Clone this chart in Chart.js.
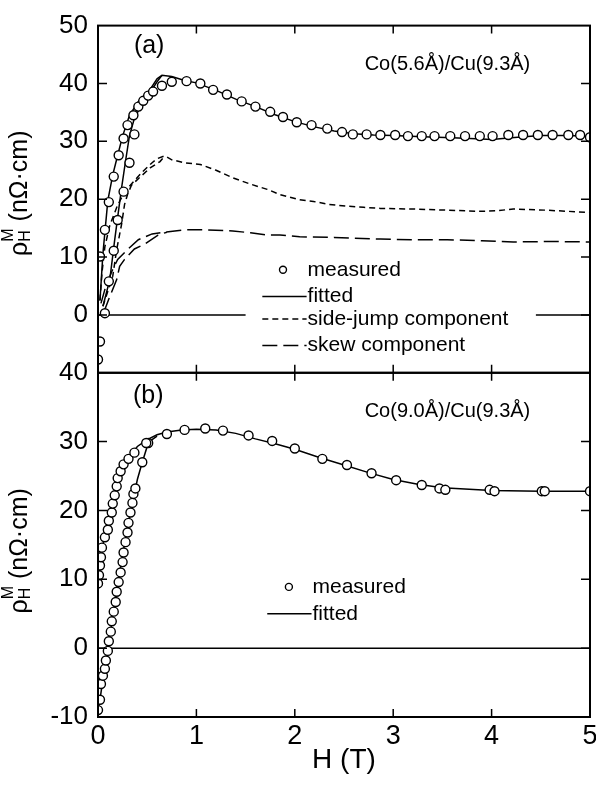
<!DOCTYPE html>
<html>
<head>
<meta charset="utf-8">
<script src="https://cdn.jsdelivr.net/npm/chart.js@4"></script>
<style>
  body { margin: 0; background: #fff; }
  canvas { display: block; background: #fff; }
</style>
</head>
<body>
<canvas id="graph" width="596" height="790"></canvas>
<script>
const FONT = "'Liberation Sans', Arial, sans-serif";

// ---- panel (a) Co(5.6A)/Cu(9.3A) ----
const measA_H   = [0.02, 0.07, 0.11, 0.16, 0.21, 0.26, 0.30, 0.36, 0.41, 0.46, 0.51, 0.56, 0.65, 0.75, 0.90, 1.04, 1.17, 1.31, 1.46, 1.60, 1.75, 1.88, 2.02, 2.17, 2.33, 2.48, 2.59, 2.73, 2.87, 3.02, 3.15, 3.29, 3.42, 3.58, 3.73, 3.88, 4.01, 4.17, 4.32, 4.47, 4.62, 4.78, 4.90, 5.00];
const measA_rho = [10.1, 14.7, 19.5, 23.9, 27.6, 30.5, 32.8, 34.5, 36.0, 37.0, 37.9, 38.6, 39.6, 40.3, 40.4, 40.0, 38.9, 38.1, 36.9, 36.0, 35.1, 34.2, 33.3, 32.8, 32.2, 31.6, 31.2, 31.2, 31.1, 31.1, 30.9, 30.9, 30.9, 30.9, 30.9, 30.9, 30.9, 31.1, 31.1, 31.1, 31.1, 31.1, 31.1, 30.7];
const measA2_H   = [0.00, 0.02, 0.07, 0.11, 0.16, 0.20, 0.26, 0.32, 0.37];
const measA2_rho = [-7.7, -4.6, 0.3, 5.8, 11.1, 16.4, 21.3, 26.3, 31.2];

const fitA1_H   = [0.02, 0.05, 0.10, 0.15, 0.20, 0.25, 0.32, 0.41, 0.52, 0.60, 0.65, 0.75, 0.88, 1.0, 1.2, 1.4, 1.6, 1.8, 2.0, 2.2, 2.4, 2.6, 2.8, 3.0, 3.3, 3.6, 3.9, 4.0, 4.2, 4.5, 4.8, 5.0];
const fitA1_rho = [2.5, 10.6, 19.8, 24.2, 27.6, 30.9, 34.5, 36.9, 38.7, 40.8, 41.4, 41.2, 40.5, 40.1, 38.8, 37.3, 36.0, 34.6, 33.4, 32.5, 31.8, 31.3, 31.1, 31.0, 30.8, 30.6, 30.4, 30.3, 30.6, 31.0, 31.0, 30.8];
const fitA2_H   = [0.05, 0.12, 0.17, 0.20, 0.24, 0.28, 0.32, 0.37, 0.44, 0.52, 0.60, 0.65];
const fitA2_rho = [1.5, 6.1, 13.0, 16.9, 22.0, 26.6, 31.0, 34.0, 36.2, 38.2, 40.3, 41.4];

const sjA1_H   = [0.02, 0.04, 0.07, 0.12, 0.20, 0.28, 0.37, 0.45, 0.55, 0.60, 0.68, 0.75, 0.88, 1.04, 1.20, 1.37, 1.55, 1.72, 1.85, 2.05, 2.19, 2.35, 2.53, 2.70, 2.87, 3.20, 3.55, 3.88, 4.05, 4.22, 4.56, 5.00];
const sjA1_rho = [2.5, 7.2, 11.8, 15.5, 19.0, 21.5, 23.2, 24.7, 26.3, 27.0, 27.5, 26.8, 26.3, 26.0, 25.0, 23.7, 22.6, 21.7, 20.8, 19.9, 19.6, 19.1, 18.8, 18.6, 18.4, 18.3, 18.1, 17.9, 18.0, 18.3, 18.1, 17.7];
const sjA2_H   = [0.05, 0.15, 0.19, 0.24, 0.27, 0.30, 0.34, 0.42, 0.53, 0.63, 0.68];
const sjA2_rho = [1.5, 6.7, 11.3, 15.7, 19.1, 20.8, 22.4, 23.7, 25.4, 26.5, 27.5];

const skA1_H   = [0.03, 0.08, 0.14, 0.20, 0.30, 0.41, 0.55, 0.68, 0.88, 1.10, 1.37, 1.55, 1.72, 1.85, 2.05, 2.40, 2.87, 3.20, 3.55, 3.90, 4.22, 4.60, 5.00];
const skA1_rho = [2.0, 5.0, 7.5, 9.6, 11.3, 13.0, 14.0, 14.3, 14.7, 14.7, 14.5, 14.2, 13.8, 13.8, 13.5, 13.4, 13.1, 13.0, 13.0, 12.8, 12.6, 12.7, 12.6];
const skA2_H   = [0.06, 0.12, 0.19, 0.22, 0.27, 0.37, 0.48, 0.61, 0.70];
const skA2_rho = [0.5, 3.2, 6.1, 8.4, 9.6, 11.4, 12.3, 13.8, 14.3];

// zero line of panel (a) is broken where the legend sits
const zeroA_H   = [0, 1.5, 1.6, 4.45, 5];
const zeroA_rho = [0, 0, null, 0, 0];

// ---- panel (b) Co(9.0A)/Cu(9.3A) ----
const measB_H   = [0, 0.01, 0.02, 0.03, 0.04, 0.07, 0.10, 0.11, 0.14, 0.15, 0.17, 0.19, 0.20, 0.23, 0.26, 0.31, 0.37, 0.49, 0.70, 0.88, 1.09, 1.27, 1.53, 1.77, 2.00, 2.28, 2.53, 2.78, 3.03, 3.29, 3.47, 3.53, 3.98, 4.03, 4.51, 4.54, 5.00];
const measB_rho = [9.4, 10.6, 12.0, 13.2, 14.6, 16.1, 17.2, 18.5, 19.7, 21.0, 22.2, 23.5, 24.7, 25.7, 26.7, 27.5, 28.4, 29.8, 31.1, 31.7, 31.9, 31.6, 30.9, 30.1, 29.0, 27.5, 26.6, 25.4, 24.4, 23.7, 23.2, 23.0, 23.0, 22.8, 22.8, 22.8, 22.8];
const measB2_H   = [0, 0.02, 0.03, 0.05, 0.07, 0.08, 0.10, 0.11, 0.13, 0.14, 0.16, 0.18, 0.19, 0.21, 0.23, 0.25, 0.26, 0.28, 0.30, 0.31, 0.33, 0.35, 0.36, 0.38, 0.45, 0.51];
const measB2_rho = [-9.0, -7.5, -5.2, -4.0, -3.0, -1.8, -0.4, 1.0, 2.4, 3.9, 5.3, 6.7, 8.2, 9.6, 11.0, 12.5, 13.9, 15.4, 16.8, 18.2, 19.7, 21.1, 22.4, 23.2, 27.0, 29.8];

const fitB1_H   = [0, 0.05, 0.10, 0.15, 0.20, 0.25, 0.30, 0.40, 0.50, 0.60, 0.70, 0.85, 1.00, 1.20, 1.40, 1.60, 1.80, 2.00, 2.25, 2.50, 2.75, 3.00, 3.25, 3.50, 4.00, 4.50, 5.00];
const fitB1_rho = [9.0, 15.0, 18.5, 21.5, 24.0, 26.0, 27.5, 29.3, 30.3, 31.0, 31.4, 31.7, 31.8, 31.7, 31.2, 30.4, 29.7, 28.9, 27.7, 26.6, 25.5, 24.5, 23.8, 23.3, 22.9, 22.8, 22.8];
const fitB2_H   = [0, 0.05, 0.10, 0.15, 0.20, 0.25, 0.30, 0.35, 0.40, 0.45, 0.50, 0.55, 0.60];
const fitB2_rho = [-9.5, -4.5, -0.5, 4.6, 9.3, 13.5, 17.5, 21.0, 24.5, 27.0, 29.3, 30.3, 30.8];

const zeroB_H   = [0, 5];
const zeroB_rho = [0, 0];

const H_ticks = [0, 1, 2, 3, 4, 5];
const legendA = ['measured', 'fitted', 'side-jump component', 'skew component'];
const legendB = ['measured', 'fitted'];

function pts(xs, ys) {
  return xs.map((x, i) => ({ x: x, y: ys[i] }));
}

function meas(xs, ys, axis) {
  return { data: pts(xs, ys), yAxisID: axis, showLine: false, pointStyle: 'circle',
    pointRadius: 4.5, pointBorderWidth: 1.4, pointBorderColor: '#000', pointBackgroundColor: '#fff' };
}
function line(xs, ys, axis, dash, width) {
  return { data: pts(xs, ys), yAxisID: axis, showLine: true, pointRadius: 0, borderColor: '#000',
    borderWidth: width || 1.5, borderDash: dash || [], tension: 0, spanGaps: false };
}

const DASH_SJ = [6, 4];
const DASH_SK = [15, 6];

const datasets = [
  meas(measA_H, measA_rho, 'ya'),
  meas(measA2_H, measA2_rho, 'ya'),
  meas(measB_H, measB_rho, 'yb'),
  meas(measB2_H, measB2_rho, 'yb'),
  line(fitA1_H, fitA1_rho, 'ya'),
  line(fitA2_H, fitA2_rho, 'ya'),
  line(sjA1_H, sjA1_rho, 'ya', DASH_SJ),
  line(sjA2_H, sjA2_rho, 'ya', DASH_SJ),
  line(skA1_H, skA1_rho, 'ya', DASH_SK),
  line(skA2_H, skA2_rho, 'ya', DASH_SK),
  line(zeroA_H, zeroA_rho, 'ya', null, 1.5),
  line(fitB1_H, fitB1_rho, 'yb'),
  line(fitB2_H, fitB2_rho, 'yb'),
  line(zeroB_H, zeroB_rho, 'yb', null, 1.5)
];

// frame, inward ticks, legends, labels
const decor = {
  id: 'decor',
  afterDatasetsDraw(chart) {
    const ctx = chart.ctx;
    const x = chart.scales.x, ya = chart.scales.ya, yb = chart.scales.yb;
    const L = x.left, R = x.right;
    ctx.save();
    ctx.strokeStyle = '#000';
    ctx.lineWidth = 2;
    ctx.setLineDash([]);
    ctx.strokeRect(L, ya.top, R - L, ya.bottom - ya.top);
    ctx.strokeRect(L, yb.top, R - L, yb.bottom - yb.top);

    // inward tick marks
    ctx.lineWidth = 1.5;
    const tk = 9;
    ctx.beginPath();
    [ya, yb].forEach(s => {
      s.ticks.forEach(t => {
        const p = s.getPixelForValue(t.value);
        if (p <= s.top + 1 || p >= s.bottom - 1) return;
        ctx.moveTo(L, p); ctx.lineTo(L + tk, p);
        ctx.moveTo(R, p); ctx.lineTo(R - tk, p);
      });
    });
    H_ticks.forEach(v => {
      if (v === 0 || v === 5) return;
      const p = x.getPixelForValue(v);
      ctx.moveTo(p, ya.top); ctx.lineTo(p, ya.top + 8);
      ctx.moveTo(p, ya.bottom - 8); ctx.lineTo(p, ya.bottom + 8);
      ctx.moveTo(p, yb.bottom); ctx.lineTo(p, yb.bottom - 8);
    });
    ctx.stroke();

    ctx.fillStyle = '#000';
    ctx.textBaseline = 'middle';

    // panel labels and sample names
    ctx.font = '25px ' + FONT;
    ctx.textAlign = 'center';
    ctx.fillText('(a)', x.getPixelForValue(0.52), ya.getPixelForValue(46.4));
    ctx.fillText('(b)', x.getPixelForValue(0.51), yb.getPixelForValue(36.6));
    ctx.font = '20px ' + FONT;
    ctx.textAlign = 'left';
    ctx.fillText('Co(5.6Å)/Cu(9.3Å)', x.getPixelForValue(2.71), ya.getPixelForValue(43.3));
    ctx.fillText('Co(9.0Å)/Cu(9.3Å)', x.getPixelForValue(2.71), yb.getPixelForValue(34.4));

    // legends
    function legend(scale, labels, rows, xMark, x0, x1, xText) {
      const styles = [null, [], DASH_SJ, DASH_SK];
      labels.forEach((lab, i) => {
        const py = scale.getPixelForValue(rows[i]);
        if (i === 0) {
          ctx.beginPath();
          ctx.setLineDash([]);
          ctx.lineWidth = 1.4;
          ctx.arc(x.getPixelForValue(xMark), py, 3.5, 0, Math.PI * 2);
          ctx.fillStyle = '#fff'; ctx.fill(); ctx.stroke();
          ctx.fillStyle = '#000';
        } else {
          ctx.beginPath();
          ctx.setLineDash(styles[i]);
          ctx.lineWidth = 1.5;
          ctx.moveTo(x.getPixelForValue(x0), py);
          ctx.lineTo(x.getPixelForValue(x1), py);
          ctx.stroke();
        }
        ctx.fillText(lab, x.getPixelForValue(xText), py);
      });
      ctx.setLineDash([]);
    }
    ctx.font = '21px ' + FONT;
    legend(ya, legendA, [7.8, 3.2, -0.7, -5.3], 1.88, 1.67, 2.12, 2.13);
    legend(yb, legendB, [8.9, 5.0], 1.94, 1.72, 2.17, 2.18);

    // y axis titles with sub/superscript
    function yTitle(s, shift) {
      ctx.save();
      ctx.translate(20, (s.top + s.bottom) / 2 + shift);
      ctx.rotate(-Math.PI / 2);
      const big = '25px ' + FONT, small = '16px ' + FONT;
      ctx.font = big; const w1 = ctx.measureText('ρ').width;
      const w3 = ctx.measureText(' (nΩ·cm)').width;
      ctx.font = small; const w2 = Math.max(ctx.measureText('H').width, ctx.measureText('M').width);
      let cx = -(w1 + w2 + w3) / 2;
      ctx.textAlign = 'left';
      ctx.font = big; ctx.fillText('ρ', cx, 0); cx += w1;
      ctx.font = small; ctx.fillText('H', cx, 6); ctx.fillText('M', cx, -11); cx += w2;
      ctx.font = big; ctx.fillText(' (nΩ·cm)', cx, 0);
      ctx.restore();
    }
    yTitle(ya, -6);
    yTitle(yb, 6);
    ctx.restore();
  }
};

const tickFont = { family: FONT, size: 26 };

new Chart(document.getElementById('graph'), {
  type: 'scatter',
  data: { datasets: datasets },
  options: {
    responsive: false,
    animation: false,
    layout: { padding: { top: 16, right: 6, left: 0, bottom: 0 } },
    plugins: { legend: { display: false }, tooltip: { enabled: false } },
    scales: {
      x: {
        type: 'linear', min: 0, max: 5,
        ticks: { stepSize: 1, padding: 3, color: '#000', font: { family: FONT, size: 27 }, autoSkip: false },
        grid: { display: false, drawTicks: false },
        border: { display: false },
        title: { display: true, text: 'H (T)', color: '#000', font: { family: FONT, size: 28 }, padding: { top: 0, bottom: 13 } },
        afterFit(s) { s.height = 73; s.paddingLeft = 0; s.paddingRight = 0; }
      },
      // panel (b) is declared first so that Chart.js stacks it below panel (a)
      yb: {
        type: 'linear', position: 'left', stack: 'panels', stackWeight: 349, min: -10, max: 40,
        ticks: { stepSize: 10, padding: 10, color: '#000', font: tickFont, autoSkip: false },
        grid: { display: false, drawTicks: false },
        border: { display: false },
        afterFit(s) { s.width = 98; }
      },
      ya: {
        type: 'linear', position: 'left', stack: 'panels', stackWeight: 352, min: -10, max: 50,
        ticks: { stepSize: 10, padding: 10, color: '#000', font: tickFont, autoSkip: false,
          callback: v => (v === -10 ? '' : v) },
        grid: { display: false, drawTicks: false },
        border: { display: false },
        afterFit(s) { s.width = 98; }
      }
    }
  },
  plugins: [decor]
});
</script>
</body>
</html>
